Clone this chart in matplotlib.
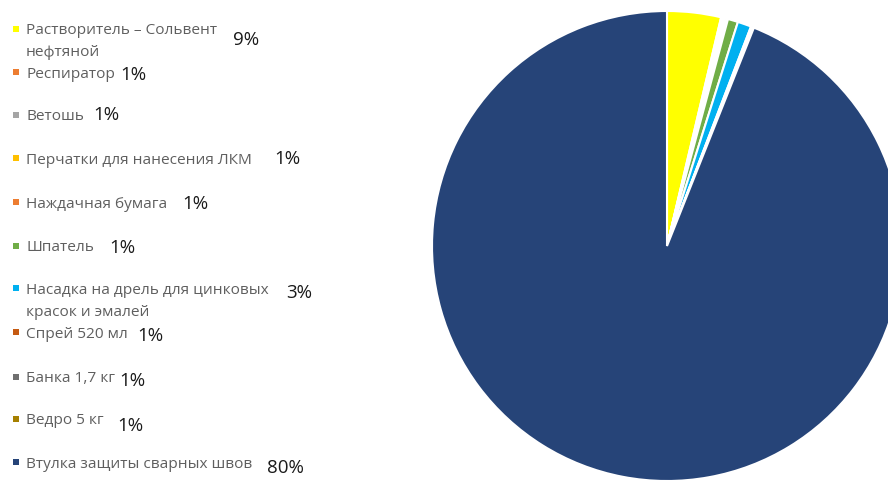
import matplotlib.pyplot as plt

plt.rcParams["font.family"] = ["Open Sans", "DejaVu Sans"]

categories = [
    "Растворитель – Сольвент\nнефтяной",
    "Респиратор",
    "Ветошь",
    "Перчатки для нанесения ЛКМ",
    "Наждачная бумага",
    "Шпатель",
    "Насадка на дрель для цинковых\nкрасок и эмалей",
    "Спрей 520 мл",
    "Банка 1,7 кг",
    "Ведро 5 кг",
    "Втулка защиты сварных швов",
]
# slice sizes (%)
values = [3.7, 0.12, 0.12, 0.12, 0.12, 0.7, 0.94, 0.07, 0.07, 0.07, 93.97]
# percentages printed next to the legend entries
pct_labels = ["9%", "1%", "1%", "1%", "1%", "1%", "3%", "1%", "1%", "1%", "80%"]

colors = [
    "#FFFF00", "#ED7D31", "#A5A5A5", "#FFC000", "#ED7D31", "#70AD47",
    "#00B0F0", "#C55A11", "#6F6F6F", "#A68000", "#264478",
]

W, H = 888, 481
fig = plt.figure(figsize=(W / 100, H / 100), dpi=100)

# pie axes: centre ~ (667, 247) px, radius ~ 235 px
cx, cy, r = 667, 247, 235
ax = fig.add_axes([(cx - r) / W, (H - cy - r) / H, 2 * r / W, 2 * r / H])
ax.pie(
    values,
    colors=colors,
    startangle=90,
    counterclock=False,
    radius=1,
    wedgeprops=dict(edgecolor="white", linewidth=1.5),
)
ax.set_xlim(-1.0, 1.0)
ax.set_ylim(-1.0, 1.0)
ax.set_aspect("equal")
ax.axis("off")

# legend laid out by hand (entries evenly spaced, labels wrap downwards)
entry_y = [30, 73, 116, 159, 203, 247, 289, 333, 378, 420, 463]
pct_x = [233, 120, 93, 274, 182, 109, 286, 137, 119, 117, 267]
pct_y = [40, 75, 115, 159, 204, 248, 293, 336, 381, 426, 468]

for i, label in enumerate(categories):
    y = entry_y[i]
    fig.patches.append(
        plt.Rectangle(
            (13 / W, 1 - (y + 3) / H), 6 / W, 6 / H,
            transform=fig.transFigure, facecolor=colors[i],
            edgecolor="none",
        )
    )
    for j, line in enumerate(label.split("\n")):
        fig.text(
            26 / W, 1 - (y + 1 + j * 22) / H, line,
            ha="left", va="center", fontsize=11.1, color="#5F5F5F",
        )
    fig.text(
        pct_x[i] / W, 1 - pct_y[i] / H, pct_labels[i],
        ha="left", va="center", fontsize=13.5, color="#1A1A1A",
    )

fig.savefig("out.png", dpi=100)
plt.close(fig)
